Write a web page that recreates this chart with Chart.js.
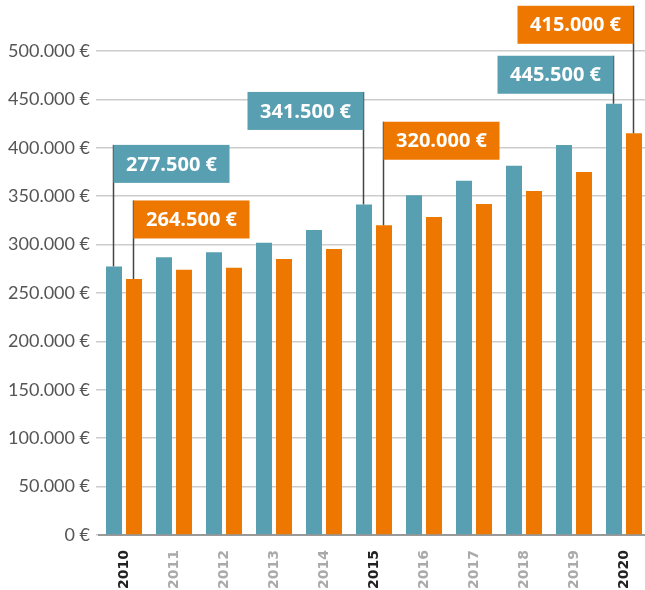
<!DOCTYPE html>
<html>
<head>
<meta charset="utf-8">
<script src="https://cdn.jsdelivr.net/npm/chart.js@4.4.1/dist/chart.umd.min.js"></script>
<style>
  html, body { margin: 0; padding: 0; background: #fff; overflow: hidden; }
  #wrap { width: 645px; height: 590px; overflow: hidden; position: relative; }
  canvas { display: block; }
</style>
</head>
<body>
<div id="wrap"><canvas id="c" width="649" height="590"></canvas></div>
<script>
const years = ['2010','2011','2012','2013','2014','2015','2016','2017','2018','2019','2020'];
const highlightYears = ['2010','2015','2020'];
const tealValues = [277500, 287000, 292000, 302000, 315000, 341500, 351000, 366000, 381500, 403000, 445500];
const orangeValues = [264500, 274000, 276000, 285000, 295500, 320000, 328500, 342000, 355500, 375000, 415000];
const yTicks = [0, 50000, 100000, 150000, 200000, 250000, 300000, 350000, 400000, 450000, 500000];

const TEAL = '#589fb1';
const ORANGE = '#ee7700';

function fmtEuro(v) {
  return String(Math.round(v)).replace(/\B(?=(\d{3})+(?!\d))/g, '.') + ' €';
}

const callouts = [
  { dataset: 0, index: 0, side: 'right', rise: 121.5 },
  { dataset: 1, index: 0, side: 'right', rise: 78.5 },
  { dataset: 0, index: 5, side: 'left', rise: 112.5 },
  { dataset: 1, index: 5, side: 'right', rise: 103.5 },
  { dataset: 0, index: 10, side: 'left', rise: 48 },
  { dataset: 1, index: 10, side: 'left', rise: 127.5 }
];

const calloutPlugin = {
  id: 'callouts',
  afterDatasetsDraw(chart) {
    const ctx = chart.ctx;
    const boxW = 116, boxH = 38;
    callouts.forEach(c => {
      const meta = chart.getDatasetMeta(c.dataset);
      const bar = meta.data[c.index];
      const x = Math.round(bar.x) - 0.5;
      const top = bar.y;
      const boxTop = top - c.rise;
      const value = chart.data.datasets[c.dataset].data[c.index];
      const color = chart.data.datasets[c.dataset].backgroundColor;
      ctx.save();
      ctx.strokeStyle = '#444';
      ctx.lineWidth = 1.5;
      ctx.beginPath();
      ctx.moveTo(x, top);
      ctx.lineTo(x, boxTop);
      ctx.stroke();
      const bx = c.side === 'right' ? x : x - boxW;
      ctx.fillStyle = color;
      ctx.fillRect(bx, boxTop, boxW, boxH);
      ctx.fillStyle = '#ffffff';
      ctx.font = 'bold 20px "Open Sans", sans-serif';
      ctx.textAlign = 'center';
      ctx.textBaseline = 'middle';
      ctx.fillText(fmtEuro(value), bx + boxW / 2, boxTop + boxH / 2 + 1);
      ctx.restore();
    });
  }
};

new Chart(document.getElementById('c'), {
  type: 'bar',
  data: {
    labels: years,
    datasets: [
      { data: tealValues, backgroundColor: TEAL, borderWidth: 0 },
      { data: orangeValues, backgroundColor: ORANGE, borderWidth: 0 }
    ]
  },
  options: {
    responsive: false,
    animation: false,
    devicePixelRatio: 1,
    layout: { padding: { top: 51, left: 0, right: 0, bottom: 0 } },
    plugins: { legend: { display: false }, tooltip: { enabled: false } },
    datasets: { bar: { categoryPercentage: 0.8, barPercentage: 0.8 } },
    scales: {
      x: {
        grid: { display: false },
        border: { display: true, color: '#999', width: 2 },
        ticks: {
          minRotation: 90, maxRotation: 90, padding: 7,
          font: { family: '"DejaVu Sans", sans-serif', weight: 'bold', size: 14 },
          color: ctx => highlightYears.includes(years[ctx.index]) ? '#222' : '#aaa'
        },
        afterFit(scale) { scale.height = 55; }
      },
      y: {
        min: 0, max: 500000,
        afterBuildTicks(scale) { scale.ticks = yTicks.map(v => ({ value: v })); },
        grid: { color: '#cccccc', lineWidth: 1.5, tickLength: 3 },
        border: { display: false },
        ticks: {
          padding: 6,
          font: { family: 'Lato, sans-serif', size: 18 },
          color: '#555',
          callback: v => fmtEuro(v)
        },
        afterFit(scale) { scale.width = 99; }
      }
    }
  },
  plugins: [calloutPlugin]
});
</script>
</body>
</html>
